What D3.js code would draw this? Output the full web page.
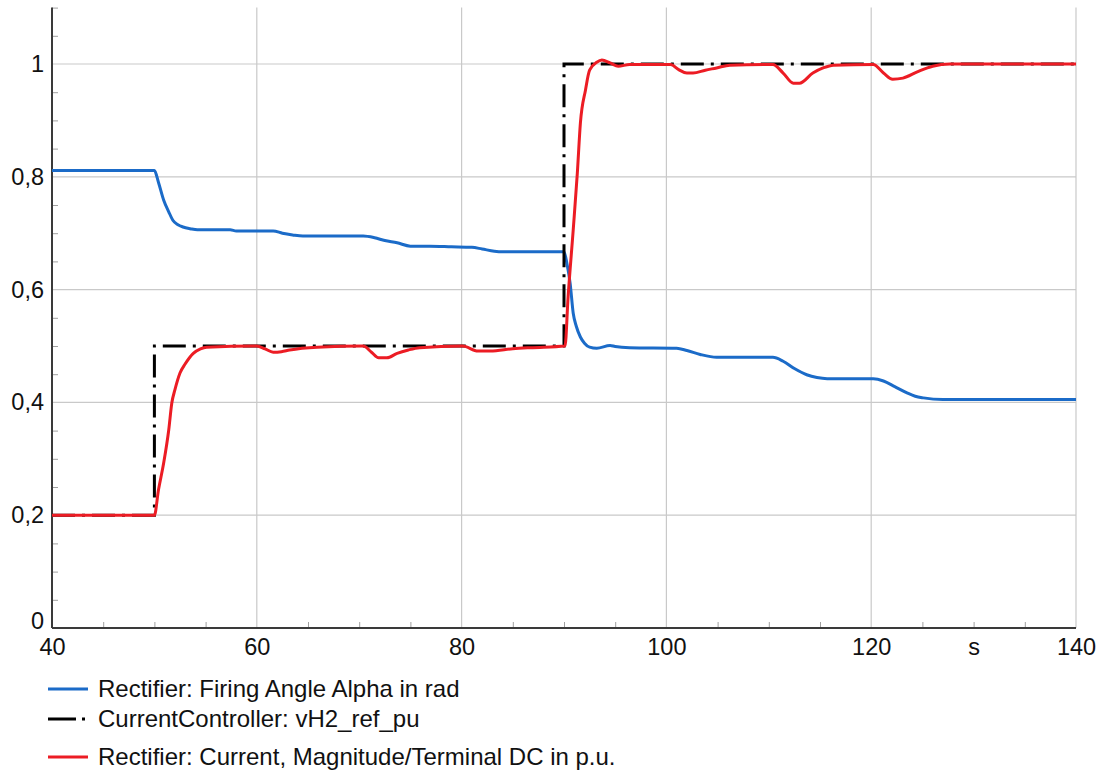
<!DOCTYPE html>
<html>
<head>
<meta charset="utf-8">
<script src="https://cdn.jsdelivr.net/npm/d3@7"></script>
<style>
  body { margin: 0; background: #fff; }
  svg { display: block; font-family: "Liberation Sans", Arial, sans-serif; }
</style>
</head>
<body>
<svg id="chart" width="1103" height="772"></svg>
<script>
// ---- data ----------------------------------------------------------------
const alphaTime = [40, 50, 50.4, 50.9, 51.4, 51.8, 52.3, 52.8, 53.5, 54.2, 57.4, 58, 61.6, 62.5, 63.5, 64.5,
  70.4, 71.5, 72.5, 73.7, 75, 76.9, 79, 81, 82, 83.2, 84, 90, 90.3, 90.6, 90.9, 91.2, 91.6, 92, 92.5,
  93.2, 94.5, 95, 96.4, 101, 102, 103.3, 104.9, 110.4, 111.4, 112.5, 113.7, 114.7, 115.7, 120.2, 121.2,
  122.3, 123.5, 124.3, 125.1, 127, 140];
const alphaValues = [0.811, 0.811, 0.790, 0.759, 0.738, 0.723, 0.715, 0.711, 0.708, 0.706, 0.706, 0.704, 0.704,
  0.700, 0.697, 0.695, 0.695, 0.692, 0.687, 0.683, 0.677, 0.677, 0.676, 0.675, 0.672, 0.668, 0.667, 0.667,
  0.645, 0.611, 0.558, 0.535, 0.516, 0.505, 0.498, 0.496, 0.501, 0.499, 0.497, 0.496, 0.492, 0.485, 0.480,
  0.480, 0.473, 0.460, 0.449, 0.444, 0.442, 0.442, 0.438, 0.428, 0.417, 0.411, 0.408, 0.405, 0.405];

const refTime = [40, 50, 90, 140];
const refValues = [0.2, 0.5, 1.0, 1.0];

const currentTime = [40, 50, 50.4, 50.9, 51.4, 51.7, 52.0, 52.5, 53, 53.8, 54.5, 55.1, 60, 60.8, 61.6, 62.4,
  63.2, 65.9, 70.4, 71.2, 71.9, 72.7, 73.7, 74.8, 75.9, 80.1, 81.6, 82.8, 85, 86.7, 90.1, 90.4, 90.9,
  91.3, 91.6, 92.1, 92.5, 93.2, 93.7, 94.5, 95.3, 96.4, 100.4, 101.2, 102, 102.6, 103.8, 104.9, 106.2,
  110.4, 111.4, 112.4, 113, 114.3, 115.3, 116.3, 120.2, 121.2, 122.1, 123.1, 124.5, 126, 127.7, 140];
const currentValues = [0.2, 0.2, 0.245, 0.292, 0.351, 0.399, 0.422, 0.452, 0.468, 0.487, 0.495, 0.498, 0.5,
  0.495, 0.489, 0.490, 0.493, 0.498, 0.5, 0.489, 0.479, 0.479, 0.487, 0.493, 0.497, 0.5, 0.491, 0.491,
  0.495, 0.497, 0.5, 0.587, 0.706, 0.806, 0.895, 0.954, 0.989, 1.003, 1.007, 1.002, 0.996, 0.999, 0.999,
  0.990, 0.984, 0.984, 0.989, 0.993, 0.998, 0.999, 0.984, 0.966, 0.966, 0.984, 0.993, 0.998, 0.999,
  0.984, 0.973, 0.975, 0.986, 0.996, 1.0, 1.0];

const xTickValues = [40, 60, 80, 100, 120, 130, 140];
const xTickLabels = ["40", "60", "80", "100", "120", "s", "140"];
const yTickValues = [0, 0.2, 0.4, 0.6, 0.8, 1];
const yTickLabels = ["0", "0,2", "0,4", "0,6", "0,8", "1"];

const seriesNames = [
  "Rectifier: Firing Angle Alpha in rad",
  "CurrentController: vH2_ref_pu",
  "Rectifier: Current, Magnitude/Terminal DC in p.u."
];

// ---- layout --------------------------------------------------------------
const svg = d3.select("#chart");
const plot = { left: 52, right: 1076, top: 7.6, bottom: 628 };
const x = d3.scaleLinear().domain([40, 140]).range([plot.left, plot.right]);
const y = d3.scaleLinear().domain([0, 1.1]).range([plot.bottom, plot.top]);

const gridColor = "#c9c9c9";
const axisColor = "#3a3a3a";
const textColor = "#111";
const labelFont = 23.5;
const legendFont = 24;
const colors = ["#1b6bc8", "#000000", "#ec1c24"];

// grid
const grid = svg.append("g");
grid.selectAll("line.h").data(yTickValues.filter(d => d > 0)).join("line")
  .attr("x1", plot.left).attr("x2", plot.right)
  .attr("y1", d => y(d)).attr("y2", d => y(d))
  .attr("stroke", gridColor).attr("stroke-width", 1.2);
grid.selectAll("line.v").data(xTickValues.filter(d => d % 20 === 0 && d > 40)).join("line")
  .attr("x1", d => x(d)).attr("x2", d => x(d))
  .attr("y1", plot.top).attr("y2", plot.bottom)
  .attr("stroke", gridColor).attr("stroke-width", 1.2);

// minor ticks every 5 s and every 0.05
const xMinor = d3.range(45, 140, 5).filter(d => d % 20 !== 0);
const yMinor = d3.range(1, 23).map(i => i * 0.05).filter(d => Math.abs(d / 0.2 - Math.round(d / 0.2)) > 1e-6);

const xMinorAxis = svg.append("g").attr("transform", `translate(0,${plot.bottom})`)
  .call(d3.axisBottom(x).tickValues(xMinor).tickSize(-6).tickFormat(""));
xMinorAxis.select(".domain").remove();
xMinorAxis.selectAll("line").attr("stroke", "#a0a0a0");

const yMinorAxis = svg.append("g").attr("transform", `translate(${plot.left},0)`)
  .call(d3.axisLeft(y).tickValues(yMinor).tickSize(-6).tickFormat(""));
yMinorAxis.select(".domain").remove();
yMinorAxis.selectAll("line").attr("stroke", "#a0a0a0");

// tick labels
const xAxis = svg.append("g").attr("transform", `translate(0,${plot.bottom})`)
  .call(d3.axisBottom(x).tickValues(xTickValues).tickSize(0).tickPadding(10)
    .tickFormat((d, i) => xTickLabels[i]));
xAxis.select(".domain").remove();
xAxis.selectAll("text").attr("font-size", labelFont).attr("fill", textColor)
  .attr("font-family", "'Liberation Sans', Arial, sans-serif");

const yAxis = svg.append("g").attr("transform", `translate(${plot.left},0)`)
  .call(d3.axisLeft(y).tickValues(yTickValues).tickSize(0).tickPadding(8)
    .tickFormat((d, i) => yTickLabels[i]));
yAxis.select(".domain").remove();
yAxis.selectAll("text").attr("font-size", labelFont).attr("fill", textColor)
  .attr("font-family", "'Liberation Sans', Arial, sans-serif")
  .attr("y", d => d === 0 ? -7 : 0);

// axis lines
svg.append("line").attr("x1", plot.left).attr("x2", plot.left)
  .attr("y1", plot.top).attr("y2", plot.bottom)
  .attr("stroke", axisColor).attr("stroke-width", 2);
svg.append("line").attr("x1", plot.left).attr("x2", plot.right)
  .attr("y1", plot.bottom).attr("y2", plot.bottom)
  .attr("stroke", axisColor).attr("stroke-width", 2);

// ---- series --------------------------------------------------------------
const smooth = d3.line().x(d => x(d[0])).y(d => y(d[1])).curve(d3.curveMonotoneX);
const step = d3.line().x(d => x(d[0])).y(d => y(d[1])).curve(d3.curveStepAfter);

const alphaData = alphaTime.map((t, i) => [t, alphaValues[i]]);
const refData = refTime.map((t, i) => [t, refValues[i]]);
const currentData = currentTime.map((t, i) => [t, currentValues[i]]);

const dashPattern = "23,7,3,7";

svg.append("path").datum(alphaData).attr("d", smooth)
  .attr("fill", "none").attr("stroke", colors[0]).attr("stroke-width", 3)
  .attr("stroke-linejoin", "round");
svg.append("path").datum(refData).attr("d", step)
  .attr("fill", "none").attr("stroke", colors[1]).attr("stroke-width", 3)
  .attr("stroke-dasharray", dashPattern);
svg.append("path").datum(currentData).attr("d", smooth)
  .attr("fill", "none").attr("stroke", colors[2]).attr("stroke-width", 3)
  .attr("stroke-linejoin", "round");

// ---- legend --------------------------------------------------------------
const legendRows = [689, 719, 757];
const legend = svg.append("g");
seriesNames.forEach((name, i) => {
  const row = legend.append("g").attr("transform", `translate(0,${legendRows[i]})`);
  row.append("line").attr("x1", 48).attr("x2", 88).attr("y1", 0).attr("y2", 0)
    .attr("stroke", colors[i]).attr("stroke-width", 3)
    .attr("stroke-dasharray", i === 1 ? "28,6,3,20" : null);
  row.append("text").attr("x", 98).attr("y", 0).attr("dy", "0.35em")
    .attr("font-size", legendFont).attr("fill", textColor).text(name);
});
</script>
</body>
</html>
